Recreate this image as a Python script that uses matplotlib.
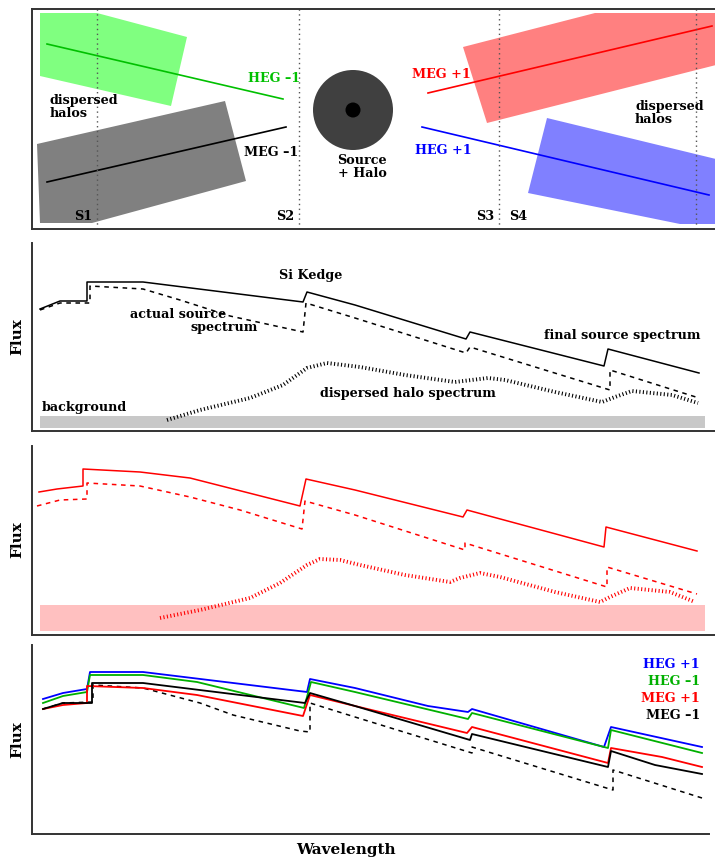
import matplotlib
matplotlib.use("Agg")
import matplotlib.pyplot as plt
from matplotlib.patches import Polygon, Circle, Rectangle

W, H = 715, 859
plt.rcParams['font.family'] = ['DejaVu Serif']
plt.rcParams['font.weight'] = 'bold'

# ---- diagram (pixel units) ----
green_halo = [(40, 13), (97, 13), (187, 37), (171, 106), (40, 76)]
gray_halo = [(37, 144), (225, 101), (246, 181), (92, 223), (40, 223)]
red_halo = [(463, 47), (595, 13), (720, 13), (720, 64), (487, 123)]
blue_halo = [(547, 118), (720, 160), (720, 224), (680, 224), (528, 193)]
heg_m1_line = ([47, 283], [44, 99])
meg_m1_line = ([47, 286], [182, 127])
meg_p1_line = ([428, 712], [93, 26])
heg_p1_line = ([422, 709], [127, 195])
slit_x = [97, 299, 499, 696]

# ---- panel 2: source spectrum ----
final_x = [40, 60, 87, 87, 143, 303, 307, 355, 466, 470, 604, 608, 699]
final_y = [309, 301, 301, 282, 282, 302, 292, 305, 339, 332, 366, 349, 373]
actual_x = [40, 60, 90, 90, 143, 180, 230, 303, 306, 355, 466, 470, 610, 610, 699]
actual_y = [310, 303, 303, 286, 289, 300, 316, 332, 303, 318, 353, 347, 390, 370, 398]
halo_x = [167, 200, 250, 283, 307, 327, 360, 405, 455, 488, 505, 555, 602, 615, 632, 672, 698]
halo_y = [420, 410, 398, 385, 368, 363, 367, 375, 382, 378, 380, 392, 402, 397, 391, 395, 403]

# ---- panel 3: MEG +1 ----
red_x = [39, 57, 83, 83, 140, 190, 300, 306, 355, 463, 467, 604, 606, 697]
red_y = [492, 489, 486, 469, 472, 478, 506, 479, 490, 517, 510, 547, 527, 551]
reddash_x = [37, 60, 87, 87, 140, 190, 240, 302, 305, 355, 465, 465, 607, 607, 697]
reddash_y = [506, 500, 499, 483, 486, 497, 510, 529, 501, 515, 550, 543, 587, 567, 594]
redhalo_x = [160, 200, 250, 280, 307, 320, 340, 360, 405, 450, 460, 480, 500, 555, 600, 610, 630, 670, 695]
redhalo_y = [618, 610, 598, 583, 565, 559, 560, 565, 575, 582, 578, 573, 577, 592, 602, 597, 588, 592, 602]

# ---- panel 4: all orders ----
orders = ["HEG +1", "HEG \u20131", "MEG +1", "MEG \u20131"]
order_colors = ["#0000ff", "#00b000", "#ff0000", "#000000"]
order_x = [
    [43, 63, 87, 90, 143, 307, 310, 355, 428, 468, 472, 604, 611, 702],
    [43, 63, 87, 90, 143, 197, 304, 311, 355, 468, 472, 608, 611, 702],
    [43, 63, 87, 87, 143, 197, 303, 310, 355, 467, 472, 608, 611, 662, 702],
    [43, 63, 92, 92, 143, 305, 310, 355, 470, 472, 608, 611, 655, 702],
]
order_y = [
    [699, 693, 689, 672, 672, 692, 679, 688, 706, 712, 709, 747, 727, 747],
    [703, 696, 692, 675, 675, 682, 708, 682, 692, 719, 713, 748, 730, 753],
    [709, 705, 703, 686, 688, 695, 716, 695, 706, 733, 727, 763, 748, 757, 767],
    [709, 703, 703, 683, 683, 703, 693, 706, 740, 734, 767, 751, 765, 774],
]
src_x = [43, 63, 93, 93, 143, 200, 233, 300, 310, 310, 355, 472, 472, 613, 613, 702]
src_y = [709, 703, 702, 685, 688, 703, 715, 731, 732, 703, 717, 753, 747, 790, 770, 798]

fig = plt.figure(figsize=(W / 100, H / 100), dpi=100)


def px_axes(x0, y0, x1, y1):
    ax = fig.add_axes([x0 / W, 1 - y1 / H, (x1 - x0) / W, (y1 - y0) / H])
    ax.set_xlim(x0, x1)
    ax.set_ylim(y1, y0)
    ax.set_xticks([])
    ax.set_yticks([])
    for s in ax.spines.values():
        s.set_color("#333333")
        s.set_linewidth(1.4)
    return ax


txt = dict(fontsize=9.2, fontweight='bold')
halo_ls = dict(lw=2.8, linestyle=(0, (0.28, 0.62)), dash_capstyle='butt')

# top diagram
ax = px_axes(32, 9, 722, 229)
ax.add_patch(Polygon(green_halo, closed=True, fc="#80ff80", ec="none"))
ax.add_patch(Polygon(gray_halo, closed=True, fc="#808080", ec="none"))
ax.add_patch(Polygon(red_halo, closed=True, fc="#ff8080", ec="none"))
ax.add_patch(Polygon(blue_halo, closed=True, fc="#8080ff", ec="none"))
ax.plot(*heg_m1_line, color="#00c000", lw=1.2)
ax.plot(*meg_m1_line, color="black", lw=1.2)
ax.plot(*meg_p1_line, color="#ff0000", lw=1.2)
ax.plot(*heg_p1_line, color="#0000ff", lw=1.2)
ax.add_patch(Circle((353, 110), 40, fc="#404040", ec="none"))
ax.add_patch(Circle((353, 110), 7.5, fc="black", ec="none"))
for x in slit_x:
    ax.axvline(x, color="#555555", lw=1, linestyle=(0, (1, 2.5)))
ax.text(92, 217, "S1", ha="right", va="center", **txt)
ax.text(294, 217, "S2", ha="right", va="center", **txt)
ax.text(494, 217, "S3", ha="right", va="center", **txt)
ax.text(509, 217, "S4", ha="left", va="center", **txt)
ax.text(300, 79, "HEG \u20131", color="#00c000", ha="right", va="center", **txt)
ax.text(298, 153, "MEG \u20131", ha="right", va="center", **txt)
ax.text(412, 75, "MEG +1", color="#ff0000", ha="left", va="center", **txt)
ax.text(415, 150, "HEG +1", color="#0000ff", ha="left", va="center", **txt)
ax.text(50, 107, "dispersed\nhalos", ha="left", va="center", linespacing=0.95, **txt)
ax.text(635, 113, "dispersed\nhalos", ha="left", va="center", linespacing=0.95, **txt)
ax.text(362, 167, "Source\n+ Halo", ha="center", va="center", linespacing=0.95, **txt)

# panel 2
ax = px_axes(32, 243, 722, 431)
for s in ("top", "right"):
    ax.spines[s].set_visible(False)
ax.add_patch(Rectangle((40, 416), 665, 12, fc="#c8c8c8", ec="none"))
ax.plot(final_x, final_y, color="black", lw=1.1)
ax.plot(actual_x, actual_y, color="black", lw=1.1, dashes=(3, 3))
ax.plot(halo_x, halo_y, color="black", **halo_ls)
ax.text(311, 276, "Si Kedge", ha="center", va="center", **txt)
ax.text(130, 315, "actual source", ha="left", va="center", **txt)
ax.text(258, 327, "spectrum", ha="right", va="center", **txt)
ax.text(700, 336, "final source spectrum", ha="right", va="center", **txt)
ax.text(408, 393, "dispersed halo spectrum", ha="center", va="center", **txt)
ax.text(42, 407, "background", ha="left", va="center", **txt)

# panel 3
ax = px_axes(32, 446, 722, 635)
for s in ("top", "right"):
    ax.spines[s].set_visible(False)
ax.add_patch(Rectangle((40, 605), 665, 26, fc="#ffc0c0", ec="none"))
ax.plot(red_x, red_y, color="#ff0000", lw=1.1)
ax.plot(reddash_x, reddash_y, color="#ff0000", lw=1.1, dashes=(3, 3))
ax.plot(redhalo_x, redhalo_y, color="#ff0000", **halo_ls)

# panel 4
ax = px_axes(32, 645, 709, 834)
for s in ("top", "right"):
    ax.spines[s].set_visible(False)
ax.plot(src_x, src_y, color="black", lw=1.1, dashes=(3, 3))
for name, c, xs, ys, ty in zip(orders, order_colors, order_x, order_y, [664, 681, 698, 715]):
    ax.plot(xs, ys, color=c, lw=1.3)
    ax.text(700, ty, name, color=c, ha="right", va="center", **txt)

# axis labels
for yc in [337, 540, 740]:
    fig.text(17 / W, 1 - yc / H, "Flux", rotation=90, ha="center", va="center",
             fontsize=11, fontweight="bold")
fig.text(346 / W, 1 - 850 / H, "Wavelength", ha="center", va="center",
         fontsize=11, fontweight="bold")

fig.savefig("out.png", dpi=100)
